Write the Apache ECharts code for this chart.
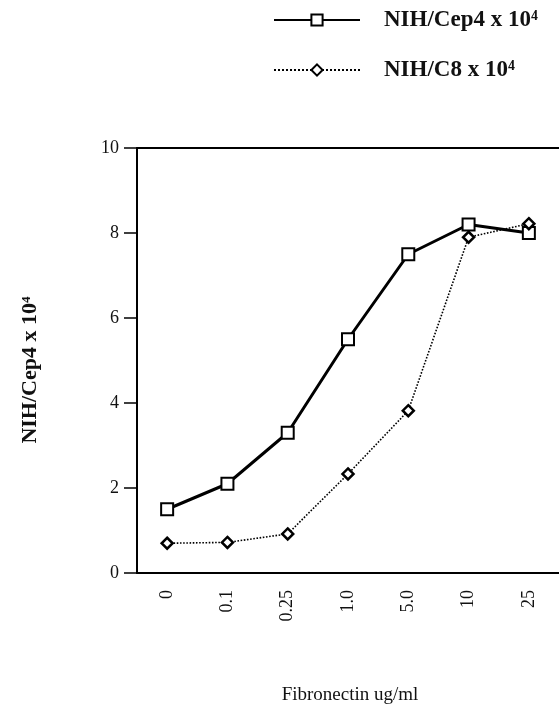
<!DOCTYPE html>
<html><head><meta charset="utf-8">
<script src="https://cdn.jsdelivr.net/npm/echarts@6/dist/echarts.min.js"></script>
<style>html,body{margin:0;padding:0;background:#fff}#c{width:559px;height:708px}</style>
</head><body><div id="c"></div>
<script>
const categories = ['0', '0.1', '0.25', '1.0', '5.0', '10', '25'];
const cep4 = [1.5, 2.1, 3.3, 5.5, 7.5, 8.2, 8.0];
const c8 = [0.7, 0.72, 0.92, 2.33, 3.82, 7.9, 8.22];
const yTicks = [0, 2, 4, 6, 8, 10];
const seriesNames = ['NIH/Cep4 x 10⁴', 'NIH/C8 x 10⁴'];
const yAxisTitle = 'NIH/Cep4 x 10⁴';
const xAxisTitle = 'Fibronectin ug/ml';
const serif = '"Liberation Serif", "DejaVu Serif", serif';

const chart = echarts.init(document.getElementById('c'));
chart.setOption({
  animation: false,
  backgroundColor: '#fff',
  legend: {
    orient: 'vertical', left: 268, top: 3, itemWidth: 86, itemHeight: 14, itemGap: 26,
    textStyle: { fontFamily: serif, fontWeight: 'bold', fontSize: 23, lineHeight: 24, color: '#111', padding: [0, 0, 0, 19] },
    data: seriesNames.map(n => ({ name: n }))
  },
  graphic: [{
    type: 'text', x: 350, y: 686,
    style: { text: xAxisTitle, font: '19px ' + serif, fill: '#111', textAlign: 'center' }
  }, {
    type: 'text', x: 30, y: 370, rotation: Math.PI / 2,
    style: { text: yAxisTitle, font: 'bold 22px ' + serif, fill: '#111', textAlign: 'center', textVerticalAlign: 'middle' }
  }],
  grid: { left: 137, right: -5, top: 148, bottom: 135, containLabel: false },
  xAxis: [{
    type: 'category', data: categories, boundaryGap: true,
    axisLine: { lineStyle: { color: '#000', width: 2 } },
    axisTick: { alignWithLabel: true, length: 10, lineStyle: { color: '#000', width: 1.5 } },
    axisLabel: { rotate: 90, margin: 17, fontFamily: serif, fontSize: 18, color: '#111' }
  }, {
    type: 'category', data: categories, position: 'top', boundaryGap: true,
    axisLine: { show: true, lineStyle: { color: '#000', width: 2 } },
    axisTick: { show: false }, axisLabel: { show: false }
  }],
  yAxis: {
    type: 'value', min: 0, max: 10, interval: 2,
    axisLine: { show: true, lineStyle: { color: '#000', width: 2 } },
    axisTick: { show: true, length: 13, lineStyle: { color: '#000', width: 1.5 } },
    splitLine: { show: false },
    axisLabel: { margin: 18, fontFamily: serif, fontSize: 18, color: '#111',
      formatter: v => yTicks.includes(v) ? String(v) : '' }
  },
  series: [{
    name: seriesNames[0], type: 'line', data: cep4,
    symbol: 'rect', symbolSize: 12,
    lineStyle: { color: '#000', width: 3 },
    itemStyle: { color: '#fff', borderColor: '#000', borderWidth: 2 }, z: 3
  }, {
    name: seriesNames[1], type: 'line', data: c8,
    symbol: 'diamond', symbolSize: 11,
    lineStyle: { color: '#000', width: 1.6, type: 'dotted' },
    itemStyle: { color: '#fff', borderColor: '#000', borderWidth: 2.5 }, z: 4
  }]
});
</script></body></html>
